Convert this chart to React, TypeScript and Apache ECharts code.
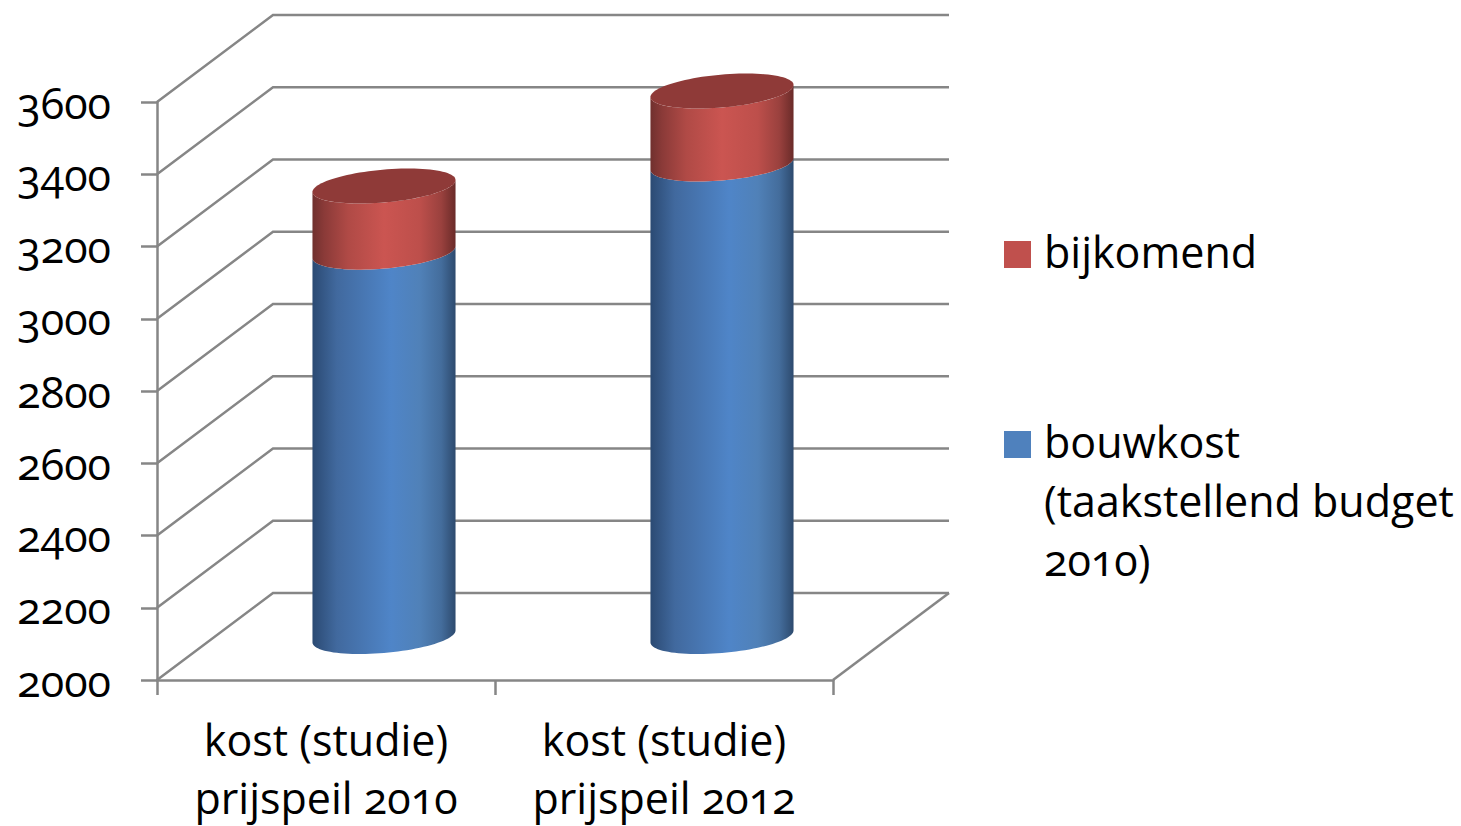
import React, { useEffect, useRef } from "react";
import * as echarts from "echarts";

const categories = ["kost (studie)\nprijspeil 2010", "kost (studie)\nprijspeil 2012"];
const bouwkostTop = [3064, 3308];
const bijkomend = [183, 202];
const yTicks = [2000, 2200, 2400, 2600, 2800, 3000, 3200, 3400, 3600];
const legendBijkomend = "bijkomend";
const legendBouwkost = "bouwkost\n(taakstellend budget\n2010)";

const FONT = '"Open Sans", sans-serif';
const FONT_SIZE = 43;
const LINE = "#868686";
const DEPTH_X = 116;
const DEPTH_Y = -87;
const A = 71.8;
const B = 16.4;
const PHI = (5.06 * Math.PI) / 180;
const SHIFT_X = 58;
const SHIFT_Y = -43.5;

function ellipsePoint(cx: number, cy: number, t: number): number[] {
  const x = A * Math.cos(t);
  const y = B * Math.sin(t);
  return [cx + x * Math.cos(PHI) + y * Math.sin(PHI), cy - x * Math.sin(PHI) + y * Math.cos(PHI)];
}

const T0 = Math.atan((B / A) * Math.tan(PHI));

function frontArc(cx: number, cy: number, reverse: boolean): number[][] {
  const pts: number[][] = [];
  const n = 48;
  for (let i = 0; i <= n; i++) {
    const k = reverse ? n - i : i;
    pts.push(ellipsePoint(cx, cy, T0 + (Math.PI * k) / n));
  }
  return pts;
}

function fullEllipse(cx: number, cy: number): number[][] {
  const pts: number[][] = [];
  const n = 96;
  for (let i = 0; i < n; i++) pts.push(ellipsePoint(cx, cy, (2 * Math.PI * i) / n));
  return pts;
}

function cylinderRenderer(stops: { offset: number; color: string }[], capColor: string | null) {
  return (_params: any, api: any) => {
    const idx = api.value(0);
    const low = api.coord([idx, api.value(1)]);
    const high = api.coord([idx, api.value(2)]);
    const cx = low[0] + SHIFT_X;
    const points = [...frontArc(cx, low[1] + SHIFT_Y, false), ...frontArc(cx, high[1] + SHIFT_Y, true)];
    const children: any[] = [
      {
        type: "polygon",
        shape: { points },
        style: { fill: new echarts.graphic.LinearGradient(0, 0, 1, 0, stops), stroke: null },
      },
    ];
    if (capColor) {
      children.push({
        type: "polygon",
        shape: { points: fullEllipse(cx, high[1] + SHIFT_Y) },
        style: { fill: capColor, stroke: null },
      });
    }
    return { type: "group", children };
  };
}

const blueStops = [
  { offset: 0, color: "#2B4A73" },
  { offset: 0.17, color: "#41699E" },
  { offset: 0.55, color: "#4F85C8" },
  { offset: 0.75, color: "#5081B8" },
  { offset: 0.9, color: "#446D9C" },
  { offset: 1, color: "#2D4A6E" },
];
const redStops = [
  { offset: 0, color: "#70302E" },
  { offset: 0.08, color: "#8A3A38" },
  { offset: 0.25, color: "#B04A46" },
  { offset: 0.5, color: "#CB5551" },
  { offset: 0.75, color: "#BD4F4B" },
  { offset: 0.9, color: "#9A413E" },
  { offset: 1, color: "#6A2B29" },
];

export default function App() {
  const ref = useRef<HTMLDivElement>(null);
  useEffect(() => {
    if (!ref.current) return;
    const chart = echarts.init(ref.current, undefined, { renderer: "svg" });
    const lineStyle = { stroke: LINE, lineWidth: 2.5, fill: null };
    chart.setOption({
      animation: false,
      backgroundColor: "#fff",
      grid: { left: 157, width: 676, top: 102, height: 578, outerBoundsMode: "none" },
      xAxis: {
        type: "category",
        data: categories,
        axisLine: { show: true, lineStyle: { color: LINE, width: 2.5 } },
        axisTick: { show: true, length: 15, lineStyle: { color: LINE, width: 2.5 } },
        axisLabel: {
          color: "#000",
          fontFamily: FONT,
          fontSize: FONT_SIZE,
          lineHeight: 58,
          margin: 30,
          interval: 0,
        },
        splitLine: { show: false },
      },
      yAxis: {
        type: "value",
        min: 2000,
        max: 3600,
        interval: 200,
        axisLine: { show: true, lineStyle: { color: LINE, width: 2.5 } },
        axisTick: { show: true, length: 16, lineStyle: { color: LINE, width: 2.5 } },
        axisLabel: {
          color: "#000",
          fontFamily: FONT,
          fontSize: FONT_SIZE,
          margin: 46,
          formatter: (v: number) => String(v),
        },
        splitLine: { show: false },
      },
      series: [
        {
          type: "custom",
          name: "walls",
          silent: true,
          z: 1,
          data: yTicks.map((v) => [0, v]),
          encode: { x: 0, y: 1 },
          renderItem: (params: any, api: any) => {
            const y = api.coord([0, api.value(1)])[1];
            const left = params.coordSys.x;
            const right = left + params.coordSys.width;
            const children: any[] = [
              {
                type: "polyline",
                shape: {
                  points: [
                    [left, y],
                    [left + DEPTH_X, y + DEPTH_Y],
                    [right + DEPTH_X, y + DEPTH_Y],
                  ],
                },
                style: lineStyle,
              },
            ];
            if (api.value(1) === yTicks[0]) {
              children.push({
                type: "line",
                shape: { x1: right + DEPTH_X, y1: y + DEPTH_Y, x2: right, y2: y },
                style: lineStyle,
              });
            }
            return { type: "group", children };
          },
        },
        {
          type: "custom",
          name: "bouwkost",
          z: 2,
          data: bouwkostTop.map((v, i) => [i, yTicks[0], v]),
          encode: { x: 0, y: 2 },
          renderItem: cylinderRenderer(blueStops, null),
        },
        {
          type: "custom",
          name: "bijkomend",
          z: 3,
          data: bijkomend.map((v, i) => [i, bouwkostTop[i], bouwkostTop[i] + v]),
          encode: { x: 0, y: 2 },
          renderItem: cylinderRenderer(redStops, "#8F3A38"),
        },
      ],
      graphic: [
        { type: "rect", x: 1004, y: 241, shape: { width: 27, height: 27 }, style: { fill: "#C0504D" } },
        { type: "rect", x: 1004, y: 431, shape: { width: 27, height: 27 }, style: { fill: "#4F81BD" } },
        {
          type: "text",
          x: 1044,
          y: 222,
          style: {
            text: legendBijkomend,
            fill: "#000",
            font: `${FONT_SIZE}px ${FONT}`,
            lineHeight: 59,
            verticalAlign: "top",
          },
        },
        {
          type: "text",
          x: 1044,
          y: 412,
          style: {
            text: legendBouwkost,
            fill: "#000",
            font: `${FONT_SIZE}px ${FONT}`,
            lineHeight: 59,
            verticalAlign: "top",
          },
        },
      ],
    });
    return () => chart.dispose();
  }, []);
  return (
    <>
      <style>{`svg text { font-variant-numeric: oldstyle-nums !important; font-feature-settings: "onum" 1 !important; }`}</style>
      <div ref={ref} style={{ position: "absolute", left: 0, top: 0, width: 1461, height: 826 }} />
    </>
  );
}
